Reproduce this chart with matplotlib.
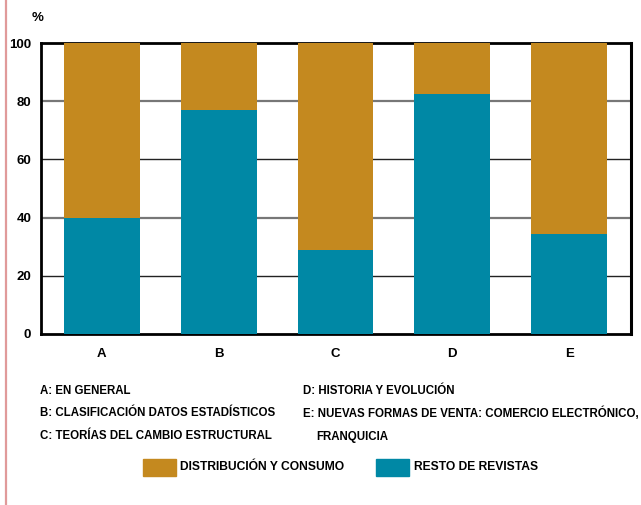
import matplotlib.pyplot as plt
from matplotlib.patches import Rectangle
from matplotlib.lines import Line2D

categories = ['A', 'B', 'C', 'D', 'E']
resto = [40, 77, 29, 82.5, 34.5]
distribucion = [100 - v for v in resto]
descriptions_left = ['A: EN GENERAL', 'B: CLASIFICACIÓN DATOS ESTADÍSTICOS',
                     'C: TEORÍAS DEL CAMBIO ESTRUCTURAL']
descriptions_right = ['D: HISTORIA Y EVOLUCIÓN',
                      'E: NUEVAS FORMAS DE VENTA: COMERCIO ELECTRÓNICO,',
                      'FRANQUICIA']

gold = '#c4891f'
teal = '#0088a5'

plt.rcParams['font.family'] = ['Liberation Sans Narrow', 'Liberation Sans', 'DejaVu Sans']
plt.rcParams['font.weight'] = 'bold'

fig = plt.figure(figsize=(6.41, 5.05), dpi=100)
ax = fig.add_axes([41 / 641, 1 - 334 / 505, 590 / 641, 291 / 505])

x = range(len(categories))
ax.bar(x, resto, width=0.65, color=teal, zorder=3)
ax.bar(x, distribucion, bottom=resto, width=0.65, color=gold, zorder=3)

# gridlines alternate grey/black
for y, c, lw in [(20, '#222222', 1), (40, '#777777', 1.6), (60, '#222222', 1), (80, '#777777', 1.6)]:
    ax.axhline(y, color=c, lw=lw, zorder=1)

ax.set_xlim(-0.521, 4.53)
ax.set_ylim(0, 100)
ax.set_xticks(list(x))
ax.set_xticklabels(categories, fontsize=9.5, fontweight='bold')
ax.set_yticks([0, 20, 40, 60, 80, 100])
ax.set_yticklabels(['0', '20', '40', '60', '80', '100'], fontsize=9.5, fontweight='bold')
ax.tick_params(length=0, pad=7)
ax.tick_params(axis='x', pad=10)
for s in ax.spines.values():
    s.set_linewidth(2)
    s.set_color('black')
ax.spines['right'].set_linewidth(2.2)

fig.text(38 / 641, 1 - 18 / 505, '%', fontsize=9.5, fontweight='bold', ha='center', va='center')

# left red border
fig.add_artist(Line2D([5.5 / 641, 5.5 / 641], [0, 1], color='#e09a9a', lw=1.6))

fs = 8.3
for i, t in enumerate(descriptions_left):
    fig.text(40 / 641, 1 - (391 + i * 22.5) / 505, t, fontsize=fs, fontweight='bold', va='center')
fig.text(303 / 641, 1 - 391 / 505, descriptions_right[0], fontsize=fs, fontweight='bold', va='center')
fig.text(303 / 641, 1 - 413 / 505, descriptions_right[1], fontsize=fs, fontweight='bold', va='center')
fig.text(316 / 641, 1 - 437 / 505, descriptions_right[2], fontsize=fs, fontweight='bold', va='center')

# legend
fig.add_artist(Rectangle((143 / 641, 1 - 476 / 505), 33 / 641, 17 / 505, color=gold, transform=fig.transFigure))
fig.text(180 / 641, 1 - 467 / 505, 'DISTRIBUCIÓN Y CONSUMO', fontsize=8.7, fontweight='bold', va='center')
fig.add_artist(Rectangle((376 / 641, 1 - 476 / 505), 33 / 641, 17 / 505, color=teal, transform=fig.transFigure))
fig.text(414 / 641, 1 - 467 / 505, 'RESTO DE REVISTAS', fontsize=8.7, fontweight='bold', va='center')

fig.savefig('out.png', dpi=100)
